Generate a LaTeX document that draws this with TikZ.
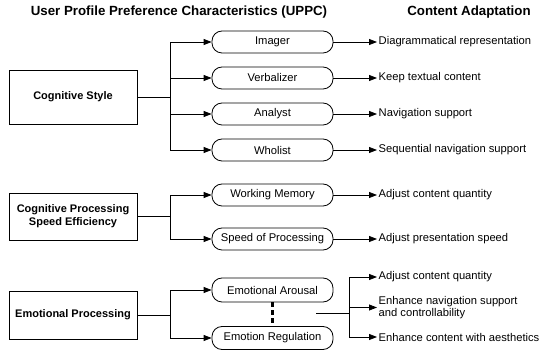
\documentclass[tikz,border=0pt]{standalone}
\usepackage{fontspec}
\setmainfont{Liberation Sans}
\usetikzlibrary{arrows.meta,positioning}

\tikzset{
  group/.style={draw, line width=0.9pt, minimum width=128pt, minimum height=48pt, align=center, font=\fontsize{11}{13}\selectfont\bfseries},
  pref/.style={draw, line width=0.8pt, rounded corners=10pt, minimum width=121pt, minimum height=22pt, inner sep=1pt, font=\fontsize{11.2}{13}\selectfont},
  outtxt/.style={anchor=west, inner xsep=1.5pt, inner ysep=1pt, align=left, font=\fontsize{11.2}{12}\selectfont},
  arr/.style={line width=0.8pt, -{Triangle[length=8pt,width=6pt]}},
  conn/.style={line width=0.8pt}
}

\begin{document}
\begin{tikzpicture}[x=1pt, y=-1pt]
\useasboundingbox (0,0) rectangle (541,352);

% Titles
\node[font=\fontsize{13.3}{15}\selectfont\bfseries] (uppc) at (179,12) {User Profile Preference Characteristics (UPPC)};
\node[font=\fontsize{13.3}{15}\selectfont\bfseries] (adapt) at (469,12) {Content Adaptation};

% Cognitive style
\node[group, minimum height=54pt] (cs) at (73,97) {Cognitive Style};
\foreach \n/\y/\lab/\out in {img/42/Imager/Diagrammatical representation,
                             verb/78/Verbalizer/Keep textual content,
                             ana/114/Analyst/Navigation support,
                             who/150/Wholist/Sequential navigation support} {
    \node[pref] (\n) at (272.5,\y) {\lab};
    \node[outtxt] (\n-out) at (377,\y) {\out};
    \draw[arr] (cs.east) -- ++(33,0) |- (\n.west);
    \draw[arr] (\n.east) -- (\n-out.west);
}

% Cognitive processing speed efficiency
\node[group, minimum height=47pt] (cp) at (73,216.5) {Cognitive Processing\\Speed Efficiency};
\foreach \n/\y/\lab/\out in {wm/195/Working Memory/Adjust content quantity,
                             sp/239/Speed of Processing/Adjust presentation speed} {
    \node[pref] (\n) at (272.5,\y) {\lab};
    \node[outtxt] (\n-out) at (377,\y) {\out};
    \draw[arr] (cp.east) -- ++(33,0) |- (\n.west);
    \draw[arr] (\n.east) -- (\n-out.west);
}

% Emotional processing
\node[group] (ep) at (73,315) {Emotional Processing};
\node[pref, minimum height=24pt] (ea) at (272.5,290) {Emotional Arousal};
\node[pref, minimum height=23pt] (er) at (272.5,338) {Emotion Regulation};
\draw[arr] (ep.east) -- ++(33,0) |- (ea.west);
\draw[arr] (ep.east) -- ++(33,0) |- (er.west);
\draw[line width=3pt, dash pattern=on 5pt off 3pt] (ea.south) -- (er.north);

\coordinate (emo) at (316,313);
\node[outtxt] (eo1) at (377,277) {Adjust content quantity};
\node[outtxt] (eo2) at (377,307.5) {Enhance navigation support\\and controllability};
\node[outtxt] (eo3) at (377,337) {Enhance content with aesthetics};
\foreach \o in {eo1,eo2,eo3}
    \draw[arr] (emo) -- ++(33,0) |- (\o.west);

\end{tikzpicture}
\end{document}
